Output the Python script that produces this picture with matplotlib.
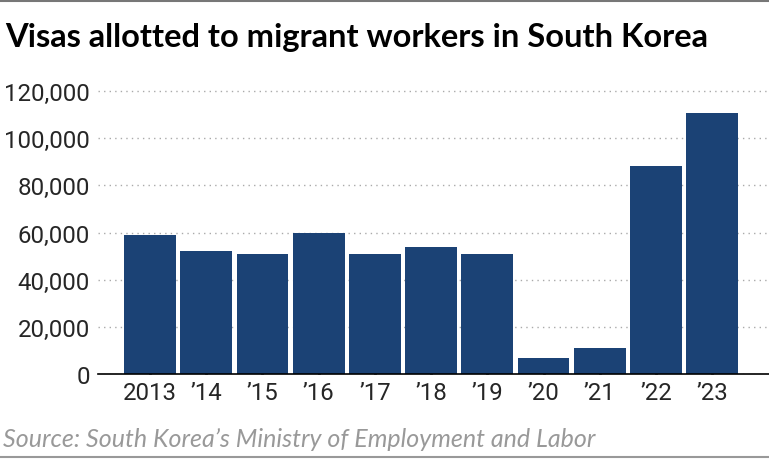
import numpy as np
import matplotlib
matplotlib.use("Agg")
import matplotlib.pyplot as plt
from matplotlib.ticker import FuncFormatter

# -----------------------------------
# Data
# -----------------------------------
years = ["2013", "\u201914", "\u201915", "\u201916", "\u201917", "\u201918",
         "\u201919", "\u201920", "\u201921", "\u201922", "\u201923"]
visas = [59000, 52000, 51000, 60000, 51000, 54000, 51000, 6800, 11000, 88000, 110500]
y_ticks = [0, 20000, 40000, 60000, 80000, 100000, 120000]

BAR_COLOR = "#1b4275"
TICK_FONT = "Roboto"

# -----------------------------------
# Figure
# -----------------------------------
fig = plt.figure(figsize=(7.69, 4.60), dpi=100)
ax = fig.add_axes([98 / 769, 1 - 375 / 460, 1 - 98 / 769, (375 - 88) / 460])

x = np.arange(len(years))
ax.bar(x, visas, width=0.92, color=BAR_COLOR, zorder=3)

ax.set_xlim(-0.925, 11.01)
ax.set_ylim(0, 120000 * 287 / 283)

ax.set_yticks(y_ticks)
ax.yaxis.set_major_formatter(FuncFormatter(lambda v, p: f"{int(v):,}"))
ax.set_xticks(x)
ax.set_xticklabels(years)

for lab in ax.get_xticklabels() + ax.get_yticklabels():
    lab.set_fontfamily(TICK_FONT)
    lab.set_fontsize(17.3)
    lab.set_color("#262626")

ax.tick_params(axis="y", length=0, pad=6)
ax.tick_params(axis="x", length=3, width=2, color="black", pad=5, direction="in")

ax.grid(axis="y", linestyle=(0, (1, 3)), color="#aaaaaa", linewidth=1, zorder=0)
for side in ["top", "right", "left"]:
    ax.spines[side].set_visible(False)
ax.spines["bottom"].set_color("black")
ax.spines["bottom"].set_linewidth(1.2)
ax.spines["bottom"].set_zorder(4)

# -----------------------------------
# Title, source, rules
# -----------------------------------
fig.text(5 / 769, 1 - 37 / 460, "Visas allotted to migrant workers in South Korea",
         fontfamily="Lato", fontweight="bold", fontsize=23.5, va="center", ha="left",
         color="black")
fig.text(3 / 769, 1 - 439 / 460, "Source: South Korea\u2019s Ministry of Employment and Labor",
         fontfamily="Lato", style="italic", fontsize=18,
         va="center", ha="left", color="#999999")

fig.add_artist(plt.Line2D([0, 1], [1 - 2 / 460, 1 - 2 / 460], color="#777777", linewidth=1.5))
fig.add_artist(plt.Line2D([0, 1], [1 - 458 / 460, 1 - 458 / 460], color="#999999", linewidth=1.5))

fig.savefig("out.png", dpi=100)
plt.close(fig)
